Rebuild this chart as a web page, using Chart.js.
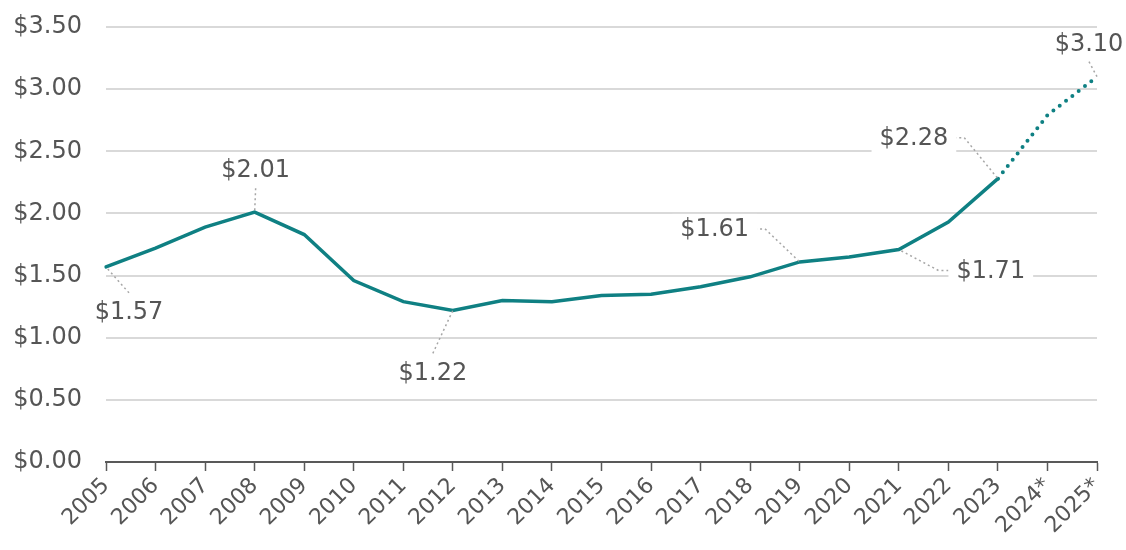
<!DOCTYPE html>
<html>
<head>
<meta charset="utf-8">
<script src="https://cdn.jsdelivr.net/npm/chart.js@4"></script>
<style>
  html, body { margin: 0; padding: 0; background: #fff; }
  #wrap { width: 1126px; height: 550px; }
</style>
</head>
<body>
<div id="wrap"><canvas id="priceChart"></canvas></div>
<script>
const years = ["2005", "2006", "2007", "2008", "2009", "2010", "2011", "2012", "2013", "2014",
  "2015", "2016", "2017", "2018", "2019", "2020", "2021", "2022", "2023", "2024*", "2025*"]
const prices = [1.57, 1.72, 1.89, 2.01, 1.83, 1.46, 1.29, 1.22, 1.30, 1.29,
  1.34, 1.35, 1.41, 1.49, 1.61, 1.65, 1.71, 1.93, 2.28, 2.79, 3.10]
const yTicks = [0, 0.5, 1, 1.5, 2, 2.5, 3, 3.5]
const firstForecastIndex = 18

// callouts: data index, label offset from point, elbow side
const callouts = [
  { index: 0, dx: 23, dy: 45, from: "top" },
  { index: 3, dx: 1, dy: -42, from: "bottom" },
  { index: 7, dx: -20, dy: 62, from: "top" },
  { index: 14, dx: -85, dy: -33, from: "right" },
  { index: 16, dx: 92, dy: 21, from: "left" },
  { index: 18, dx: -84, dy: -41, from: "right" },
  { index: 20, dx: -8, dy: -33, from: "bottom" },
]

const teal = "#0f8083"
const textColor = "#555555"
const fontFamily = "'DejaVu Sans', sans-serif"

const calloutPlugin = {
  id: "callouts",
  afterDatasetsDraw(chart) {
    const ctx = chart.ctx
    const meta = chart.getDatasetMeta(0)
    ctx.save()
    ctx.font = "24px " + fontFamily
    callouts.forEach((c) => {
      const pt = meta.data[c.index]
      const text = "$" + prices[c.index].toFixed(2)
      const cx = pt.x + c.dx
      const cy = pt.y + c.dy
      const w = ctx.measureText(text).width
      const h = 22

      // leader line
      ctx.strokeStyle = "#a6a6a6"
      ctx.lineWidth = 1.5
      ctx.setLineDash([2, 3])
      ctx.beginPath()
      if (c.from === "right") {
        const ex = cx + w / 2 + 6
        ctx.moveTo(ex, cy)
        ctx.lineTo(ex + 10, cy)
        ctx.lineTo(pt.x, pt.y)
      } else if (c.from === "left") {
        const ex = cx - w / 2 - 8
        ctx.moveTo(ex, cy)
        ctx.lineTo(ex - 10, cy)
        ctx.lineTo(pt.x, pt.y)
      } else if (c.from === "top") {
        ctx.moveTo(cx, cy - h / 2 - 8)
        ctx.lineTo(pt.x, pt.y)
      } else {
        ctx.moveTo(cx, cy + h / 2 + 7)
        ctx.lineTo(pt.x, pt.y)
      }
      ctx.stroke()
      ctx.setLineDash([])

      // white box behind text so grid lines break
      ctx.fillStyle = "#fff"
      ctx.fillRect(cx - w / 2 - 8, cy - h / 2 - 4, w + 16, h + 8)
      ctx.fillStyle = textColor
      ctx.textAlign = "center"
      ctx.textBaseline = "middle"
      ctx.fillText(text, cx, cy + 1)
    })
    ctx.restore()
  },
}

new Chart(document.getElementById("priceChart"), {
  type: "line",
  data: {
    labels: years,
    datasets: [{
      data: prices,
      borderColor: teal,
      borderWidth: 3.5,
      borderCapStyle: "round",
      pointRadius: 0,
      tension: 0,
      segment: {
        borderDash: (ctx) => (ctx.p0DataIndex >= firstForecastIndex ? [0, 8] : undefined),
        borderWidth: (ctx) => (ctx.p0DataIndex >= firstForecastIndex ? 4 : 3.5),
      },
    }],
  },
  options: {
    responsive: true,
    maintainAspectRatio: false,
    animation: false,
    layout: { padding: { top: 27, right: 29, left: 0, bottom: 0 } },
    plugins: {
      legend: { display: false },
      tooltip: { enabled: false },
    },
    scales: {
      x: {
        afterFit: (scale) => {
          scale.height = 88
          scale.paddingLeft = 0
          scale.paddingRight = 0
        },
        grid: {
          drawOnChartArea: false,
          drawTicks: true,
          tickLength: 9,
          tickColor: "#595959",
          tickWidth: 1.5,
        },
        border: { color: "#595959", width: 2 },
        ticks: {
          color: textColor,
          font: { size: 22, family: fontFamily },
          minRotation: 45,
          maxRotation: 45,
          autoSkip: false,
          padding: 2,
        },
      },
      y: {
        min: 0,
        max: 3.5,
        afterFit: (scale) => {
          scale.width = 106
          scale.paddingTop = 0
          scale.paddingBottom = 0
        },
        afterBuildTicks: (scale) => { scale.ticks = yTicks.map((v) => ({ value: v })) },
        grid: { color: "#d9d9d9", lineWidth: 2, drawTicks: false },
        border: { display: false },
        ticks: {
          color: textColor,
          font: { size: 24, family: fontFamily },
          padding: 24,
          callback: (v) => "$" + Number(v).toFixed(2),
        },
      },
    },
  },
  plugins: [calloutPlugin],
})
</script>
</body>
</html>
